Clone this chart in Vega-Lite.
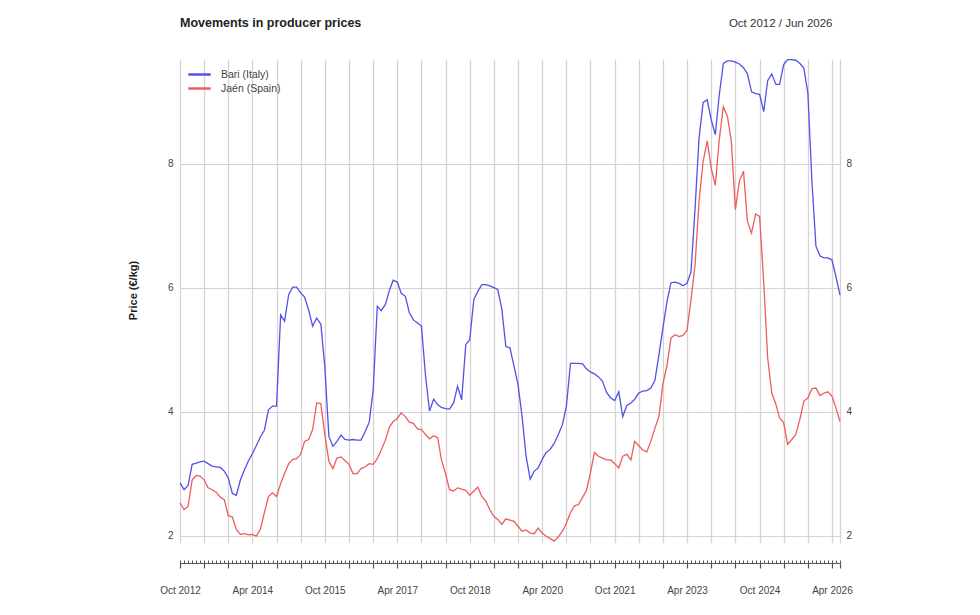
{
  "$schema": "https://vega.github.io/schema/vega-lite/v6.json",
  "width": 660,
  "height": 484,
  "autosize": {"type": "none"},
  "padding": {"left": 180, "top": 59, "right": 140, "bottom": 72},
  "background": "#ffffff",
  "title": {"text": "Movements in producer prices", "anchor": "start", "frame": "group", "fontSize": 12.5, "fontWeight": "bold", "color": "#222222", "offset": 0, "dy": 12},
  "data": {"values": [
    {"date":"2012-10-01","bari":2.85,"jaen":2.53},
    {"date":"2012-11-01","bari":2.74,"jaen":2.42},
    {"date":"2012-12-01","bari":2.81,"jaen":2.47},
    {"date":"2013-01-01","bari":3.15,"jaen":2.90},
    {"date":"2013-02-01","bari":3.17,"jaen":2.97},
    {"date":"2013-03-01","bari":3.19,"jaen":2.96},
    {"date":"2013-04-01","bari":3.20,"jaen":2.90},
    {"date":"2013-05-01","bari":3.16,"jaen":2.77},
    {"date":"2013-06-01","bari":3.12,"jaen":2.74},
    {"date":"2013-07-01","bari":3.11,"jaen":2.70},
    {"date":"2013-08-01","bari":3.10,"jaen":2.62},
    {"date":"2013-09-01","bari":3.04,"jaen":2.58},
    {"date":"2013-10-01","bari":2.93,"jaen":2.32},
    {"date":"2013-11-01","bari":2.68,"jaen":2.30},
    {"date":"2013-12-01","bari":2.65,"jaen":2.10},
    {"date":"2014-01-01","bari":2.90,"jaen":2.02},
    {"date":"2014-02-01","bari":3.06,"jaen":2.03},
    {"date":"2014-03-01","bari":3.20,"jaen":2.01},
    {"date":"2014-04-01","bari":3.32,"jaen":2.02},
    {"date":"2014-05-01","bari":3.45,"jaen":1.99},
    {"date":"2014-06-01","bari":3.59,"jaen":2.10},
    {"date":"2014-07-01","bari":3.70,"jaen":2.37},
    {"date":"2014-08-01","bari":4.03,"jaen":2.63},
    {"date":"2014-09-01","bari":4.09,"jaen":2.69},
    {"date":"2014-10-01","bari":4.09,"jaen":2.63},
    {"date":"2014-11-01","bari":5.56,"jaen":2.84},
    {"date":"2014-12-01","bari":5.46,"jaen":3.00},
    {"date":"2015-01-01","bari":5.89,"jaen":3.16},
    {"date":"2015-02-01","bari":6.01,"jaen":3.23},
    {"date":"2015-03-01","bari":6.01,"jaen":3.24},
    {"date":"2015-04-01","bari":5.92,"jaen":3.31},
    {"date":"2015-05-01","bari":5.85,"jaen":3.52},
    {"date":"2015-06-01","bari":5.64,"jaen":3.55},
    {"date":"2015-07-01","bari":5.38,"jaen":3.71},
    {"date":"2015-08-01","bari":5.51,"jaen":4.14},
    {"date":"2015-09-01","bari":5.41,"jaen":4.13},
    {"date":"2015-10-01","bari":4.73,"jaen":3.63},
    {"date":"2015-11-01","bari":3.60,"jaen":3.20},
    {"date":"2015-12-01","bari":3.44,"jaen":3.08},
    {"date":"2016-01-01","bari":3.52,"jaen":3.25},
    {"date":"2016-02-01","bari":3.62,"jaen":3.27},
    {"date":"2016-03-01","bari":3.55,"jaen":3.21},
    {"date":"2016-04-01","bari":3.54,"jaen":3.15},
    {"date":"2016-05-01","bari":3.55,"jaen":3.00},
    {"date":"2016-06-01","bari":3.54,"jaen":3.00},
    {"date":"2016-07-01","bari":3.54,"jaen":3.08},
    {"date":"2016-08-01","bari":3.68,"jaen":3.11},
    {"date":"2016-09-01","bari":3.83,"jaen":3.16},
    {"date":"2016-10-01","bari":4.35,"jaen":3.15},
    {"date":"2016-11-01","bari":5.70,"jaen":3.24},
    {"date":"2016-12-01","bari":5.63,"jaen":3.38},
    {"date":"2017-01-01","bari":5.73,"jaen":3.54},
    {"date":"2017-02-01","bari":5.96,"jaen":3.75},
    {"date":"2017-03-01","bari":6.12,"jaen":3.84},
    {"date":"2017-04-01","bari":6.09,"jaen":3.89},
    {"date":"2017-05-01","bari":5.91,"jaen":3.98},
    {"date":"2017-06-01","bari":5.86,"jaen":3.92},
    {"date":"2017-07-01","bari":5.60,"jaen":3.83},
    {"date":"2017-08-01","bari":5.48,"jaen":3.81},
    {"date":"2017-09-01","bari":5.43,"jaen":3.72},
    {"date":"2017-10-01","bari":5.38,"jaen":3.71},
    {"date":"2017-11-01","bari":4.57,"jaen":3.63},
    {"date":"2017-12-01","bari":4.01,"jaen":3.56},
    {"date":"2018-01-01","bari":4.20,"jaen":3.61},
    {"date":"2018-02-01","bari":4.11,"jaen":3.58},
    {"date":"2018-03-01","bari":4.07,"jaen":3.22},
    {"date":"2018-04-01","bari":4.05,"jaen":3.00},
    {"date":"2018-05-01","bari":4.04,"jaen":2.74},
    {"date":"2018-06-01","bari":4.14,"jaen":2.72},
    {"date":"2018-07-01","bari":4.41,"jaen":2.77},
    {"date":"2018-08-01","bari":4.19,"jaen":2.75},
    {"date":"2018-09-01","bari":5.08,"jaen":2.73},
    {"date":"2018-10-01","bari":5.16,"jaen":2.65},
    {"date":"2018-11-01","bari":5.81,"jaen":2.72},
    {"date":"2018-12-01","bari":5.94,"jaen":2.78},
    {"date":"2019-01-01","bari":6.05,"jaen":2.63},
    {"date":"2019-02-01","bari":6.05,"jaen":2.55},
    {"date":"2019-03-01","bari":6.03,"jaen":2.42},
    {"date":"2019-04-01","bari":6.00,"jaen":2.31},
    {"date":"2019-05-01","bari":5.97,"jaen":2.26},
    {"date":"2019-06-01","bari":5.65,"jaen":2.18},
    {"date":"2019-07-01","bari":5.05,"jaen":2.27},
    {"date":"2019-08-01","bari":5.03,"jaen":2.25},
    {"date":"2019-09-01","bari":4.73,"jaen":2.23},
    {"date":"2019-10-01","bari":4.44,"jaen":2.15},
    {"date":"2019-11-01","bari":3.92,"jaen":2.07},
    {"date":"2019-12-01","bari":3.28,"jaen":2.09},
    {"date":"2020-01-01","bari":2.91,"jaen":2.04},
    {"date":"2020-02-01","bari":3.04,"jaen":2.03},
    {"date":"2020-03-01","bari":3.09,"jaen":2.12},
    {"date":"2020-04-01","bari":3.23,"jaen":2.04},
    {"date":"2020-05-01","bari":3.34,"jaen":1.99},
    {"date":"2020-06-01","bari":3.39,"jaen":1.95},
    {"date":"2020-07-01","bari":3.49,"jaen":1.91},
    {"date":"2020-08-01","bari":3.63,"jaen":1.98},
    {"date":"2020-09-01","bari":3.79,"jaen":2.07},
    {"date":"2020-10-01","bari":4.09,"jaen":2.20},
    {"date":"2020-11-01","bari":4.78,"jaen":2.37},
    {"date":"2020-12-01","bari":4.78,"jaen":2.48},
    {"date":"2021-01-01","bari":4.78,"jaen":2.50},
    {"date":"2021-02-01","bari":4.77,"jaen":2.62},
    {"date":"2021-03-01","bari":4.69,"jaen":2.72},
    {"date":"2021-04-01","bari":4.64,"jaen":3.02},
    {"date":"2021-05-01","bari":4.61,"jaen":3.34},
    {"date":"2021-06-01","bari":4.56,"jaen":3.28},
    {"date":"2021-07-01","bari":4.49,"jaen":3.25},
    {"date":"2021-08-01","bari":4.31,"jaen":3.22},
    {"date":"2021-09-01","bari":4.22,"jaen":3.22},
    {"date":"2021-10-01","bari":4.18,"jaen":3.16},
    {"date":"2021-11-01","bari":4.32,"jaen":3.09},
    {"date":"2021-12-01","bari":3.92,"jaen":3.28},
    {"date":"2022-01-01","bari":4.10,"jaen":3.31},
    {"date":"2022-02-01","bari":4.14,"jaen":3.22},
    {"date":"2022-03-01","bari":4.20,"jaen":3.52},
    {"date":"2022-04-01","bari":4.30,"jaen":3.45},
    {"date":"2022-05-01","bari":4.33,"jaen":3.38},
    {"date":"2022-06-01","bari":4.34,"jaen":3.35},
    {"date":"2022-07-01","bari":4.38,"jaen":3.52},
    {"date":"2022-08-01","bari":4.50,"jaen":3.73},
    {"date":"2022-09-01","bari":4.92,"jaen":3.92},
    {"date":"2022-10-01","bari":5.35,"jaen":4.45},
    {"date":"2022-11-01","bari":5.78,"jaen":4.75},
    {"date":"2022-12-01","bari":6.08,"jaen":5.19},
    {"date":"2023-01-01","bari":6.09,"jaen":5.24},
    {"date":"2023-02-01","bari":6.07,"jaen":5.21},
    {"date":"2023-03-01","bari":6.03,"jaen":5.23},
    {"date":"2023-04-01","bari":6.07,"jaen":5.31},
    {"date":"2023-05-01","bari":6.25,"jaen":5.80},
    {"date":"2023-06-01","bari":7.28,"jaen":6.37},
    {"date":"2023-07-01","bari":8.41,"jaen":7.39},
    {"date":"2023-08-01","bari":8.99,"jaen":8.04},
    {"date":"2023-09-01","bari":9.03,"jaen":8.37},
    {"date":"2023-10-01","bari":8.71,"jaen":7.93},
    {"date":"2023-11-01","bari":8.47,"jaen":7.65},
    {"date":"2023-12-01","bari":9.11,"jaen":8.39},
    {"date":"2024-01-01","bari":9.62,"jaen":8.92},
    {"date":"2024-02-01","bari":9.66,"jaen":8.76},
    {"date":"2024-03-01","bari":9.66,"jaen":8.36},
    {"date":"2024-04-01","bari":9.64,"jaen":7.26},
    {"date":"2024-05-01","bari":9.61,"jaen":7.72},
    {"date":"2024-06-01","bari":9.55,"jaen":7.88},
    {"date":"2024-07-01","bari":9.45,"jaen":7.07},
    {"date":"2024-08-01","bari":9.16,"jaen":6.88},
    {"date":"2024-09-01","bari":9.13,"jaen":7.19},
    {"date":"2024-10-01","bari":9.12,"jaen":7.15},
    {"date":"2024-11-01","bari":8.84,"jaen":6.10},
    {"date":"2024-12-01","bari":9.34,"jaen":4.87},
    {"date":"2025-01-01","bari":9.45,"jaen":4.30},
    {"date":"2025-02-01","bari":9.28,"jaen":4.12},
    {"date":"2025-03-01","bari":9.28,"jaen":3.90},
    {"date":"2025-04-01","bari":9.60,"jaen":3.82},
    {"date":"2025-05-01","bari":9.68,"jaen":3.47},
    {"date":"2025-06-01","bari":9.68,"jaen":3.55},
    {"date":"2025-07-01","bari":9.67,"jaen":3.63},
    {"date":"2025-08-01","bari":9.62,"jaen":3.87},
    {"date":"2025-09-01","bari":9.54,"jaen":4.17},
    {"date":"2025-10-01","bari":9.14,"jaen":4.22},
    {"date":"2025-11-01","bari":7.70,"jaen":4.37},
    {"date":"2025-12-01","bari":6.67,"jaen":4.38},
    {"date":"2026-01-01","bari":6.51,"jaen":4.26},
    {"date":"2026-02-01","bari":6.48,"jaen":4.30},
    {"date":"2026-03-01","bari":6.48,"jaen":4.32},
    {"date":"2026-04-01","bari":6.45,"jaen":4.25},
    {"date":"2026-05-01","bari":6.18,"jaen":4.06},
    {"date":"2026-06-01","bari":5.88,"jaen":3.84}
  ]},
  "layer": [
    {
      "mark": {"type": "line", "strokeWidth": 1.3},
      "encoding": {
        "x": {"field": "date", "type": "temporal",
          "scale": {"type": "utc", "domain": [{"year":2012,"month":10,"date":1,"utc":true},{"year":2026,"month":6,"date":1,"utc":true}]},
          "axis": {"orient": "bottom", "offset": 20, "title": null, "domain": false,
            "values": [
              {"year":2012,"month":10,"date":1,"utc":true},{"year":2013,"month":4,"date":1,"utc":true},{"year":2013,"month":10,"date":1,"utc":true},
              {"year":2014,"month":4,"date":1,"utc":true},{"year":2014,"month":10,"date":1,"utc":true},{"year":2015,"month":4,"date":1,"utc":true},
              {"year":2015,"month":10,"date":1,"utc":true},{"year":2016,"month":4,"date":1,"utc":true},{"year":2016,"month":10,"date":1,"utc":true},
              {"year":2017,"month":4,"date":1,"utc":true},{"year":2017,"month":10,"date":1,"utc":true},{"year":2018,"month":4,"date":1,"utc":true},
              {"year":2018,"month":10,"date":1,"utc":true},{"year":2019,"month":4,"date":1,"utc":true},{"year":2019,"month":10,"date":1,"utc":true},
              {"year":2020,"month":4,"date":1,"utc":true},{"year":2020,"month":10,"date":1,"utc":true},{"year":2021,"month":4,"date":1,"utc":true},
              {"year":2021,"month":10,"date":1,"utc":true},{"year":2022,"month":4,"date":1,"utc":true},{"year":2022,"month":10,"date":1,"utc":true},
              {"year":2023,"month":4,"date":1,"utc":true},{"year":2023,"month":10,"date":1,"utc":true},{"year":2024,"month":4,"date":1,"utc":true},
              {"year":2024,"month":10,"date":1,"utc":true},{"year":2025,"month":4,"date":1,"utc":true},{"year":2025,"month":10,"date":1,"utc":true},
              {"year":2026,"month":4,"date":1,"utc":true},{"year":2026,"month":6,"date":1,"utc":true}
            ],
            "labelExpr": "(((utcyear(datum.value) - 2012) * 12 + utcmonth(datum.value) - 9) % 18 == 0) ? utcFormat(datum.value, '%b %Y') : ''",
            "labelFontSize": 10, "labelColor": "#444444", "labelPadding": 17, "labelFlush": false, "labelOverlap": false,
            "tickSize": 5, "tickColor": "#555555", "tickWidth": 1.2,
            "grid": true, "gridColor": "#d4d4d4", "gridWidth": 1.3}
        },
        "y": {"field": "bari", "type": "quantitative",
          "scale": {"domain": [1.88, 9.69], "nice": false, "zero": false},
          "axis": {"orient": "left", "values": [2, 4, 6, 8], "grid": true, "gridColor": "#d4d4d4", "gridWidth": 1,
            "domain": false, "ticks": false, "labelPadding": 7, "labelFontSize": 10, "labelColor": "#444444",
            "title": "Price (€/kg)", "titleFontSize": 11, "titleFontWeight": "bold", "titleColor": "#222222",
            "titleX": -47, "titleY": 231, "titleAngle": -90, "titleAlign": "center", "titleBaseline": "middle"}
        },
        "color": {"datum": "Bari (Italy)", "type": "nominal",
          "scale": {"domain": ["Bari (Italy)", "Jaén (Spain)"], "range": ["#5252e8", "#ee5c5c"]},
          "legend": {"orient": "none", "legendX": 11, "legendY": 7, "title": null, "symbolType": "M-1.6,0H1.6",
            "symbolSize": 196, "symbolStrokeWidth": 2.5, "labelFontSize": 10.5, "labelColor": "#444444",
            "labelOffset": 13, "rowPadding": 0}
        }
      }
    },
    {
      "mark": {"type": "line", "strokeWidth": 1.3},
      "encoding": {
        "x": {"field": "date", "type": "temporal",
          "scale": {"type": "utc", "domain": [{"year":2012,"month":10,"date":1,"utc":true},{"year":2026,"month":6,"date":1,"utc":true}]},
          "axis": {"orient": "bottom", "offset": 20, "title": null, "labels": false, "grid": false,
            "tickCount": {"interval": "month", "step": 1}, "tickSize": -3, "tickColor": "#555555", "tickWidth": 1,
            "domain": true, "domainColor": "#555555", "domainWidth": 1.2}
        },
        "y": {"field": "jaen", "type": "quantitative",
          "scale": {"domain": [1.88, 9.69], "nice": false, "zero": false},
          "axis": {"orient": "right", "values": [2, 4, 6, 8], "grid": false, "domain": false, "ticks": false,
            "labelPadding": 6, "labelFontSize": 10, "labelColor": "#444444",
            "title": "Oct 2012 / Jun 2026", "titleFontSize": 11.5, "titleFontWeight": "normal", "titleColor": "#333333",
            "titleAngle": 0, "titleX": -8, "titleY": -36, "titleAlign": "right", "titleBaseline": "middle"}
        },
        "color": {"datum": "Jaén (Spain)", "type": "nominal"}
      }
    }
  ],
  "resolve": {"axis": {"x": "independent", "y": "independent"}},
  "config": {
    "font": "Liberation Sans",
    "view": {"stroke": null},
    "axis": {"labelFont": "Liberation Sans", "titleFont": "Liberation Sans"},
    "legend": {"labelFont": "Liberation Sans"}
  }
}
